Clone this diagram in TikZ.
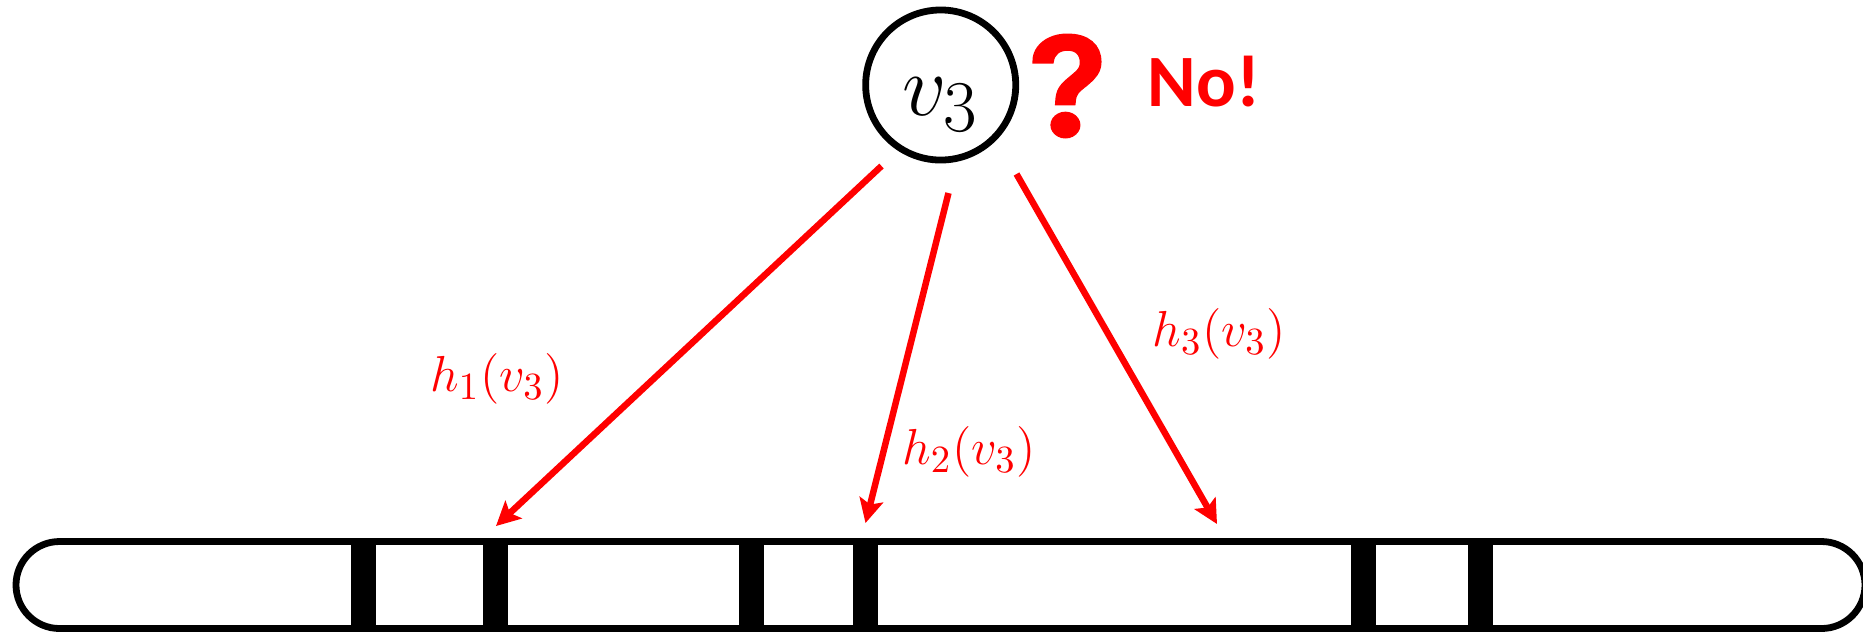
\documentclass[tikz,border=0pt]{standalone}
\usepackage{amsmath}
\usepackage{fontspec}
\usetikzlibrary{arrows.meta}
\newfontfamily\nofont{Carlito}
\newfontfamily\markfont[AutoFakeBold=5]{Noto Emoji}

\begin{document}
\begin{tikzpicture}[x=0.01cm,y=-0.01cm,
	hasharrow/.style={red, line width=0.065cm, -{Stealth[length=0.24cm,width=0.24cm,inset=0.05cm]}},
	hashlabel/.style={red, font=\fontsize{15}{17}\selectfont},
	]
	\useasboundingbox (0,0) rectangle (1863,632);
	\node [circle, draw, line width=0.068cm, minimum size=1.5cm, inner sep=0pt, font=\fontsize{28}{30}\selectfont] (vthree) at (940.7,85) {\raisebox{-0.3cm}[0pt][0pt]{$v_3$}};
	\node [text=red, font=\markfont\bfseries\fontsize{28}{30}\selectfont] (mark) at (1067,86) {\scalebox{1.12}[1]{❓}};
	\node [text=red, font=\nofont\bfseries\fontsize{21}{24}\selectfont] (no) at (1204,82) {No!};
	% the bit array
	\draw [line width=0.068cm, rounded corners=0.435cm] (16,541.5) rectangle (1865,628.5);
	\foreach \barleft/\barright in {350.5/375.5, 483/508, 739/764, 853/878, 1351/1376, 1468/1493}
	{
		\fill (\barleft,538) rectangle (\barright,632);
	}
	\coordinate (starta) at (881.5,166);
	\coordinate (tipa) at (496,526);
	\coordinate (startb) at (948.5,193);
	\coordinate (tipb) at (865.5,523);
	\coordinate (startc) at (1016.5,174);
	\coordinate (tipc) at (1217,524);
	\draw [hasharrow] (starta) -- (tipa);
	\draw [hasharrow] (startb) -- (tipb);
	\draw [hasharrow] (startc) -- (tipc);
	\node [hashlabel] (labela) at (497,379) {$h_1(v_3)$};
	\node [hashlabel] (labelb) at (969,452) {$h_2(v_3)$};
	\node [hashlabel] (labelc) at (1219,334) {$h_3(v_3)$};
\end{tikzpicture}
\end{document}
